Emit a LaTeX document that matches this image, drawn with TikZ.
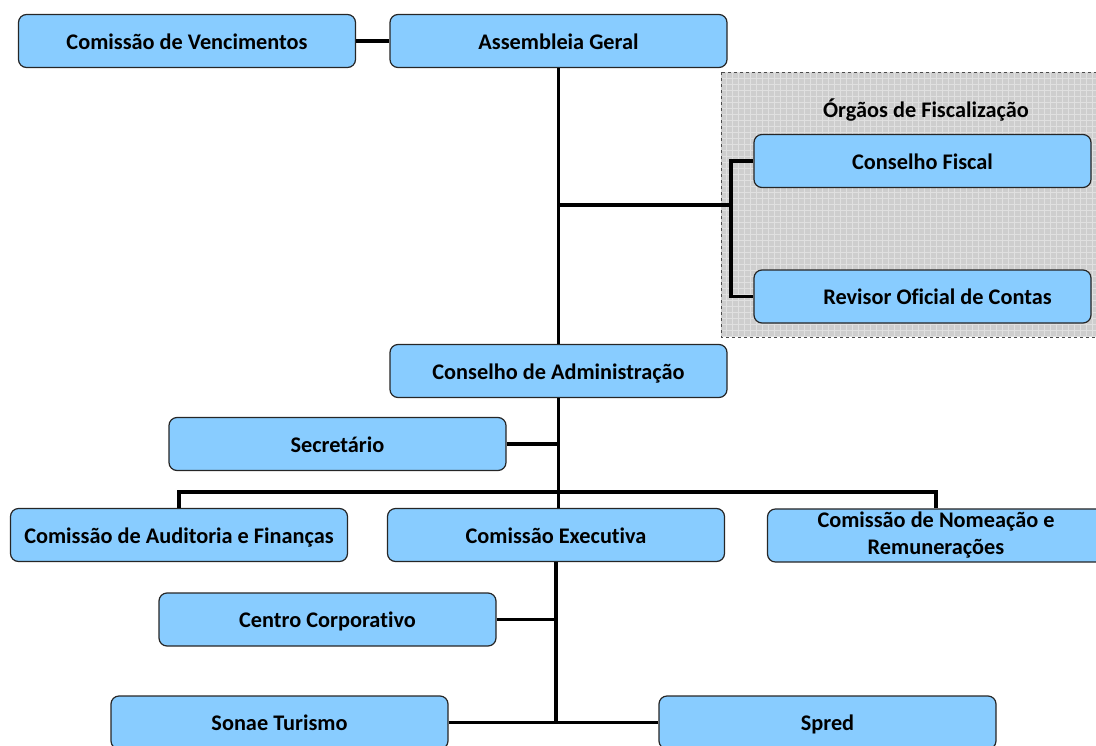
\documentclass[tikz,border=0pt]{standalone}
\usepackage{fontspec}
\setmainfont{Carlito}[Ligatures=NoCommon]
\definecolor{boxblue}{RGB}{136,204,255}
\definecolor{panelgray}{RGB}{206,206,206}
\tikzset{
  orgbox/.style={draw=black!85, line width=1.2pt, fill=boxblue, rounded corners=8pt,
    minimum width=337pt, minimum height=53pt, align=center,
    text height=20pt, text depth=4pt,
    font=\fontsize{22.3}{27}\selectfont\bfseries},
  link/.style={line width=3.2pt}
}
\begin{document}
\begin{tikzpicture}[x=1pt,y=-1pt]
    \useasboundingbox (0,0) rectangle (1096,745);
    \clip (0,0) rectangle (1096,745);
    % painel dos orgaos de fiscalizacao
    \fill[panelgray] (721,72) rectangle (1100,337);
    \draw[white!88!black, line width=0.4pt, step=6pt] (721,72) grid (1100,337);
    \draw[black!70, dashed, line width=0.8pt] (721,72) rectangle (1100,337);
    \node[font=\fontsize{22.3}{27}\selectfont\bfseries] (of) at (926,110) {Órgãos de Fiscalização};
    % caixas
    \node[orgbox] (vc) at (187,41) {Comissão de Vencimentos};
    \node[orgbox] (ag) at (558.5,41) {Assembleia Geral};
    \node[orgbox] (cf) at (922.5,161) {Conselho Fiscal};
    \node[orgbox] (roc) at (922.5,296.5) {\hspace*{30pt}Revisor Oficial de Contas};
    \node[orgbox] (ca) at (558.5,371) {Conselho de Administração};
    \node[orgbox] (sec) at (337.5,444) {Secretário};
    \node[orgbox] (caf) at (179,535) {Comissão de Auditoria e Finanças};
    \node[orgbox] (ce) at (556,535) {Comissão Executiva};
    \node[orgbox, text height={}, text depth={}] (cnr) at (936,535.5) {Comissão de Nomeação e\\Remunerações};
    \node[orgbox] (cc) at (327.5,619.5) {Centro Corporativo};
    \node[orgbox] (st) at (279.5,722.5) {Sonae Turismo};
    \node[orgbox] (sp) at (827.5,722.5) {Spred};
    % ligacoes
    \coordinate (fisc) at (731,205);
    \coordinate (bus) at (558.5,492);
    \draw[link] (vc) -- (ag);
    \draw[link] (ag) -- (ca);
    \draw[link] (fisc -| ag.south) -- (fisc);
    \draw[link] (cf.west) -| (fisc) |- (roc.west);
    \draw[link] (sec.east) -- (sec.east -| ca.south);
    \draw[link] (ca.south) -- (bus);
    \draw[link] (caf.north) |- (bus) -| (cnr.north);
    \draw[link] (bus) -- (bus |- ce.north);
    \draw[link] (ce.south) -- (ce.south |- st.east);
    \draw[link] (cc.east) -- (cc.east -| ce.south);
    \draw[link] (st.east) -- (sp.west);
\end{tikzpicture}
\end{document}
